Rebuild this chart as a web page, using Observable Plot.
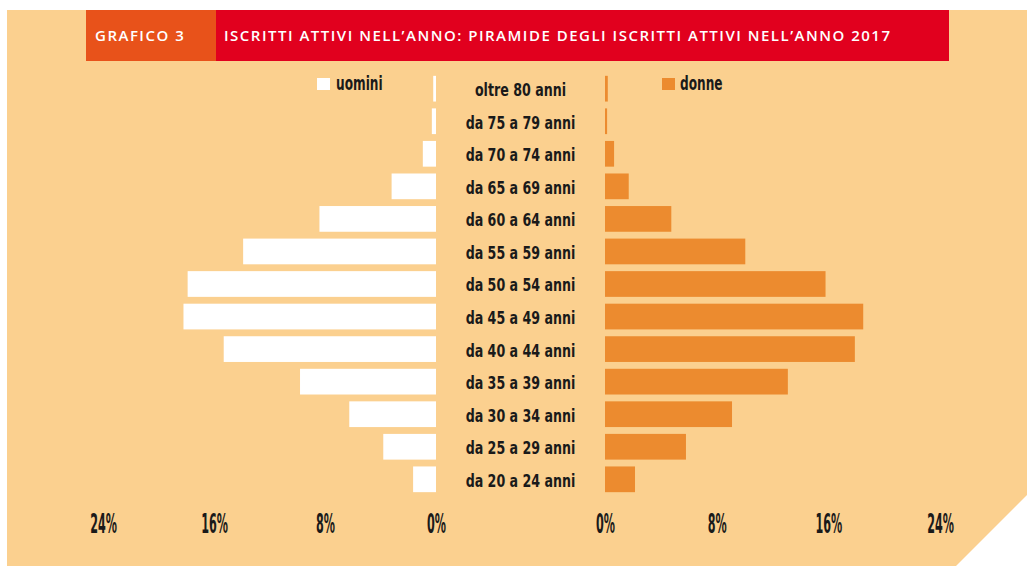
<!DOCTYPE html>
<html>
<head>
<meta charset="utf-8">
<script src="https://cdn.jsdelivr.net/npm/d3@7"></script>
<script src="https://cdn.jsdelivr.net/npm/@observablehq/plot@0.6"></script>
<style>
html, body { margin: 0; padding: 0; background: #ffffff; }
#page { position: relative; width: 1027px; height: 566px; overflow: hidden; }
#bg { position: absolute; left: 7px; top: 10px; width: 1020px; height: 556px; background: #FBD08F;
  clip-path: polygon(0 0, 100% 0, 100% 485px, 949px 100%, 0 100%); }
.hdr { position: absolute; top: 10px; height: 51px; color: #fff; font-family: "Open Sans", sans-serif;
  font-weight: 600; font-size: 15px; line-height: 51px; letter-spacing: 1.5px; white-space: nowrap; }
#h1 { left: 86px; width: 130px; background: #E8521A; }
#h1 span { margin-left: 9px; }
#h2 { left: 216px; width: 733px; background: #E1001E; }
#h2 span { margin-left: 8px; }
.plotbox { position: absolute; top: 0; }
.lg { position: absolute; font-family: "Liberation Sans Narrow", "DejaVu Sans Condensed", sans-serif; font-weight: bold;
  font-size: 19px; color: #1a1a1a; line-height: 20px; white-space: nowrap; transform: scaleX(0.71); transform-origin: 0 50%; }
.sw { position: absolute; width: 13px; height: 12px; }
</style>
</head>
<body>
<div id="page">
  <div id="bg"></div>
  <div class="hdr" id="h1"><span>GRAFICO 3</span></div>
  <div class="hdr" id="h2"><span>ISCRITTI ATTIVI NELL’ANNO: PIRAMIDE DEGLI ISCRITTI ATTIVI NELL’ANNO 2017</span></div>
  <div class="plotbox" id="left" style="left:0px;width:440px;"></div>
  <div class="plotbox" id="right" style="left:440px;width:587px;"></div>
  <div class="sw" style="left:317px;top:78px;background:#ffffff;"></div>
  <div class="lg" style="left:336px;top:73px;">uomini</div>
  <div class="sw" style="left:662px;top:78px;background:#EC8B2F;"></div>
  <div class="lg" style="left:680px;top:73px;">donne</div>
</div>
<script>
const ages = ["oltre 80 anni","da 75 a 79 anni","da 70 a 74 anni","da 65 a 69 anni","da 60 a 64 anni",
  "da 55 a 59 anni","da 50 a 54 anni","da 45 a 49 anni","da 40 a 44 anni","da 35 a 39 anni",
  "da 30 a 34 anni","da 25 a 29 anni","da 20 a 24 anni"];
const uomini = [0.2, 0.3, 0.95, 3.2, 8.4, 13.9, 17.9, 18.2, 15.3, 9.8, 6.25, 3.8, 1.65];
const donne = [0.2, 0.15, 0.65, 1.7, 4.75, 10.05, 15.8, 18.5, 17.9, 13.1, 9.1, 5.8, 2.15];
const tickValues = [0, 8, 16, 24];
const tickLabels = ["0%", "8%", "16%", "24%"];

const rowsU = ages.map((a, i) => ({age: a, value: uomini[i]}));
const rowsD = ages.map((a, i) => ({age: a, value: donne[i]}));

const FONT = '"Liberation Sans Narrow", "DejaVu Sans Condensed", sans-serif';
const common = {
  height: 566,
  marginTop: 69,
  marginBottom: 67,
  y: {domain: ages, padding: 0.21, round: false, axis: null},
  style: {background: "transparent", fontFamily: FONT, fontSize: "27px", fontWeight: "bold", color: "#1a1a1a", overflow: "visible"}
};
const xAxis = {domain: [0, 24], ticks: tickValues, tickFormat: d => tickLabels[tickValues.indexOf(d)],
  tickSize: 0, tickPadding: 14, label: null};

const left = Plot.plot({
  ...common,
  width: 440, marginLeft: 103, marginRight: 4,
  x: {...xAxis, reverse: true},
  marks: [
    Plot.barX(rowsU, {x: "value", y: "age", fill: "#ffffff"})
  ]
});

const right = Plot.plot({
  ...common,
  width: 587, marginLeft: 165, marginRight: 87,
  x: {...xAxis},
  marks: [
    Plot.barX(rowsD, {x: "value", y: "age", fill: "#EC8B2F"}),
    Plot.text(rowsD, {y: "age", text: "age", frameAnchor: "left", dx: -85, dy: 1, textAnchor: "middle",
      fontSize: 18.5, fontWeight: "bold", fill: "#1a1a1a"})
  ]
});

function condense(svg) {
  // narrow the labels like the condensed typeface of the original
  svg.querySelectorAll("text").forEach(t => {
    const tr = t.getAttribute("transform") || "";
    if (/%$/.test(t.textContent)) {
      t.setAttribute("transform", tr + " scale(0.46,1)");
    } else if (/anni$/.test(t.textContent)) {
      t.setAttribute("transform", tr + " scale(0.76,1)");
    }
  });
}
condense(left); condense(right);
document.getElementById("left").appendChild(left);
document.getElementById("right").appendChild(right);
</script>
</body>
</html>
